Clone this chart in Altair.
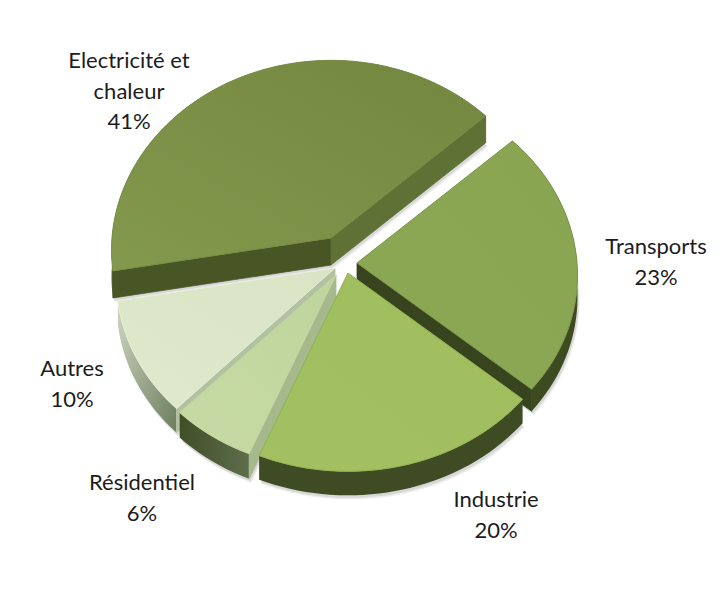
import math
import altair as alt
import pandas as pd

# ---- chart values
categories = ["Electricité et chaleur", "Transports", "Industrie", "Résidentiel", "Autres"]
shares = [41, 23, 20, 6, 10]
label_lines = [["Electricité et", "chaleur", "41%"], ["Transports", "23%"],
               ["Industrie", "20%"], ["Résidentiel", "6%"], ["Autres", "10%"]]

# ---- layout of the exploded, tilted pie (separate from the values)
START_ANGLE = 260
PERSP_X, PERSP_Y = 0.065, 0.055
APEX = {"Electricité et chaleur": (331, 238), "Transports": (357, 263), "Industrie": (348, 273),
        "Résidentiel": (336, 275), "Autres": (335, 268)}
AXES = {"Electricité et chaleur": (219, 188), "Transports": (220, 188), "Industrie": (220, 188),
        "Résidentiel": (215, 184), "Autres": (218, 188)}
DEPTH = {"Electricité et chaleur": 27, "Transports": 22, "Industrie": 24, "Résidentiel": 25, "Autres": 24}
LABEL_POS = {"Electricité et chaleur": (129, 61), "Transports": (656, 247), "Industrie": (496, 500),
             "Résidentiel": (142, 483), "Autres": (72, 369)}
LINE_H = 30.5
DRAW_ORDER = ["Electricité et chaleur", "Transports", "Autres", "Résidentiel", "Industrie"]


def grad(c0, c1, x1=0, y1=1, x2=1, y2=0):
    return {"gradient": "linear", "x1": x1, "y1": y1, "x2": x2, "y2": y2,
            "stops": [{"offset": 0, "color": c0}, {"offset": 1, "color": c1}]}


STYLE = {
    "Electricité et chaleur": dict(top=grad("#83994d", "#73863f"), edge="#7a8d48", outer="#485525",
                                   start="#485525", end="#5f7134"),
    "Transports": dict(top=grad("#8ba855", "#8aa552"), edge="#7b9549", outer="#3e4a20",
                       start="#3e4a20", end="#38441d"),
    "Industrie": dict(top=grad("#a3c162", "#a0bd5e"), edge="#94b055", outer="#3f4c23",
                      start="#3f4c23", end="#3f4c23"),
    "Résidentiel": dict(top=grad("#c7daa5", "#bfd49c"), edge="#c3d6a0",
                        outer=grad("#3f4f26", "#5f6d4c", 0, 0, 1, 0),
                        start="#a6b98d", end="#5f6d4c"),
    "Autres": dict(top=grad("#dfe9cd", "#d8e4c4"), edge="#e6eed8",
                   outer=grad("#cfd6c2", "#6d7d5c", 0, 0, 1, 1),
                   start="#b2c19f", end="#cfd6c2"),
}

X_DOMAIN, Y_DOMAIN = [8, 720], [8, 578]
W, H = X_DOMAIN[1] - X_DOMAIN[0], Y_DOMAIN[1] - Y_DOMAIN[0]
X_SCALE = alt.Scale(domain=X_DOMAIN, range=[0, W])
Y_SCALE = alt.Scale(domain=Y_DOMAIN, range=[0, H])

# slice angles come from the shares
total = sum(shares)
spans = {}
a0 = START_ANGLE
for c, v in zip(categories, shares):
    spans[c] = (a0, a0 + 360 * v / total)
    a0 += 360 * v / total


def rim(cat):
    (cx, cy), (a, b) = APEX[cat], AXES[cat]
    t0, t1 = spans[cat]
    n = max(2, int((t1 - t0) / 2))
    out = []
    for k in range(n + 1):
        t = math.radians(t0 + (t1 - t0) * k / n)
        u = -math.cos(t)
        out.append((cx + a * math.sin(t) * (1 + PERSP_X * u), cy + b * u * (1 + PERSP_Y * u)))
    return out


def poly(points, fill, stroke=None, opacity=1.0, sw=0.8):
    df = pd.DataFrame({"px": [p[0] for p in points], "py": [p[1] for p in points],
                       "i": list(range(len(points)))})
    kw = dict(fill=fill, interpolate="linear-closed", opacity=opacity, clip=False)
    kw["stroke"] = stroke if stroke else "transparent"
    kw["strokeWidth"] = sw
    return alt.Chart(df).mark_line(**kw).encode(
        x=alt.X("px:Q", scale=X_SCALE, axis=None),
        y=alt.Y("py:Q", scale=Y_SCALE, axis=None),
        order=alt.Order("i:Q"),
    )


def shifted(pts, dx, dy):
    return [(x + dx, y + dy) for x, y in pts]


def front_facing(apex, corner, mid):
    """An edge wall shows only if the slice lies above the edge (looking straight down the tilt)."""
    ex, ey = corner[0] - apex[0], corner[1] - apex[1]
    side_mid = ex * (mid[1] - apex[1]) - ey * (mid[0] - apex[0])
    side_down = ex  # cross of the edge with the (0, 1) downward direction
    return side_mid * side_down < 0


layers = []
for cat in DRAW_ORDER:
    s, d = STYLE[cat], DEPTH[cat]
    r = rim(cat)
    apex = APEX[cat]
    mid = r[len(r) // 2]
    # soft contact shadow, a little below and to the right of the solid
    sh = r + [apex]
    for off, op in ((4, 0.10), (2.5, 0.14)):
        layers.append(poly(shifted(sh, off * 0.5, d + off), "#555555", opacity=op))
    # walls, back to front
    layers.append(poly(r + shifted(r, 0, d)[::-1], s["outer"]))
    for corner, col in ((r[0], s["start"]), (r[-1], s["end"])):
        if front_facing(apex, corner, mid):
            layers.append(poly([apex, corner, (corner[0], corner[1] + d), (apex[0], apex[1] + d)],
                               col, stroke=col))
    # top face
    layers.append(poly([apex] + r, s["top"], stroke=s["edge"], sw=1))

rows = []
for cat, lines in zip(categories, label_lines):
    lx, ly = LABEL_POS[cat]
    for k, line in enumerate(lines):
        rows.append({"lx": lx, "ly": ly + k * LINE_H, "txt": line})
labels = alt.Chart(pd.DataFrame(rows)).mark_text(
    font="Lato", fontSize=22, color="#1c1c1c", align="center", baseline="middle"
).encode(
    x=alt.X("lx:Q", scale=X_SCALE, axis=None),
    y=alt.Y("ly:Q", scale=Y_SCALE, axis=None),
    text="txt:N",
)

chart = alt.layer(*layers, labels).properties(
    width=W, height=H, padding=0, autosize=alt.AutoSizeParams(type="none"),
    view=alt.ViewConfig(strokeWidth=0, strokeOpacity=0),
).configure_view(strokeWidth=0, strokeOpacity=0).configure(background="white")

chart.save("out.html", embed_options={"renderer": "svg", "actions": False})
